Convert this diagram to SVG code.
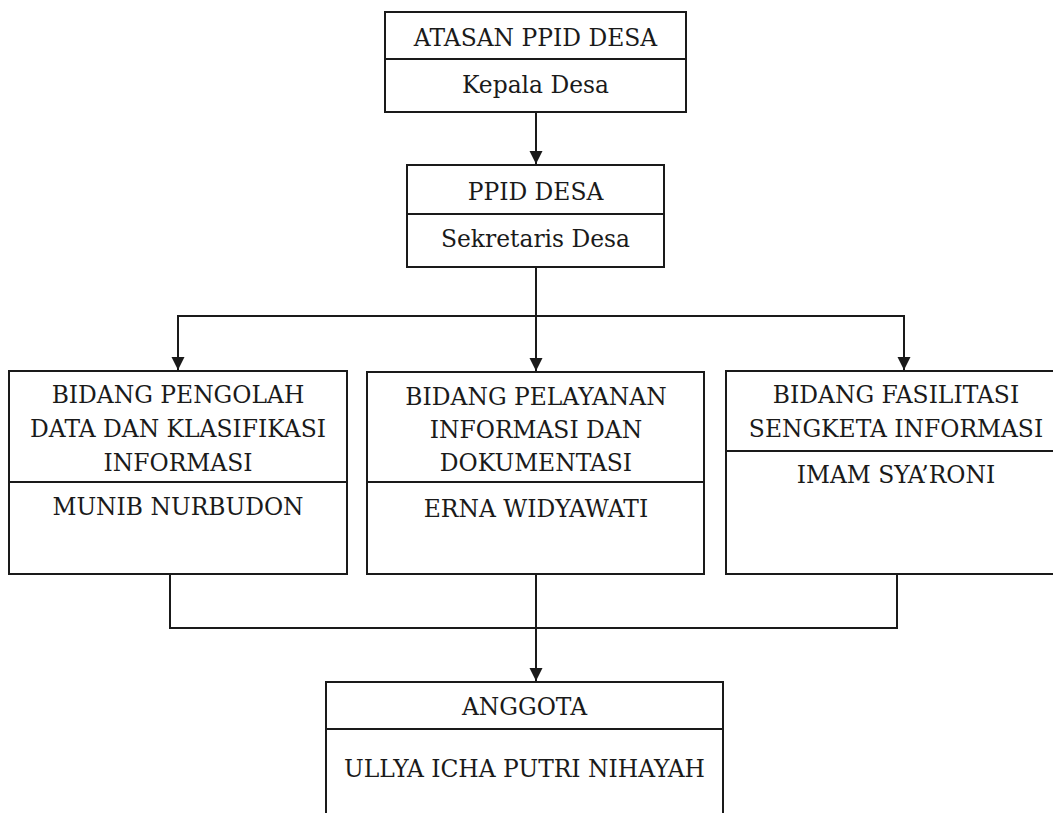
<svg xmlns="http://www.w3.org/2000/svg" width="1053" height="813" viewBox="0 0 1053 813">
<defs>
<style>
.box{fill:#fff;stroke:#1a1a1a;stroke-width:2}
.div{stroke:#1a1a1a;stroke-width:2}
.t{font-family:"DejaVu Serif","Liberation Serif",serif;font-size:23.4px;fill:#1a1a1a;text-anchor:middle}
.c{fill:none;stroke:#1a1a1a;stroke-width:2}
</style>
<marker id="ad" markerUnits="userSpaceOnUse" markerWidth="14" markerHeight="14" viewBox="0 0 14 14" refX="13" refY="7" orient="auto">
<path d="M0,0.5 L13,7 L0,13.5 Z" fill="#1a1a1a"/>
</marker>
</defs>
<rect width="1053" height="813" fill="#fff"/>
<g id="connectors">
<line class="c" x1="536" y1="112" x2="536" y2="164" marker-end="url(#ad)"/>
<line class="c" x1="536" y1="267" x2="536" y2="316"/>
<line class="c" x1="177" y1="316" x2="905" y2="316"/>
<line class="c" x1="178" y1="316" x2="178" y2="370" marker-end="url(#ad)"/>
<line class="c" x1="536" y1="316" x2="536" y2="371" marker-end="url(#ad)"/>
<line class="c" x1="904" y1="316" x2="904" y2="370" marker-end="url(#ad)"/>
<polyline class="c" points="170,574 170,628 897,628 897,574"/>
<line class="c" x1="536" y1="574" x2="536" y2="681" marker-end="url(#ad)"/>
</g>
<g id="atasan">
<rect class="box" x="385" y="12" width="301" height="100"/>
<line class="div" x1="385" y1="59" x2="686" y2="59"/>
<text class="t" x="535.5" y="46">ATASAN PPID DESA</text>
<text class="t" x="535.5" y="93">Kepala Desa</text>
</g>
<g id="ppid">
<rect class="box" x="407" y="165" width="257" height="102"/>
<line class="div" x1="407" y1="214" x2="664" y2="214"/>
<text class="t" x="535.5" y="200">PPID DESA</text>
<text class="t" x="535.5" y="247">Sekretaris Desa</text>
</g>
<g id="pengolah">
<rect class="box" x="9" y="371" width="338" height="203"/>
<line class="div" x1="9" y1="482" x2="347" y2="482"/>
<text class="t" x="178" y="403">BIDANG PENGOLAH</text>
<text class="t" x="178" y="437">DATA DAN KLASIFIKASI</text>
<text class="t" x="178" y="471">INFORMASI</text>
<text class="t" x="178" y="515">MUNIB NURBUDON</text>
</g>
<g id="pelayanan">
<rect class="box" x="367" y="372" width="337" height="202"/>
<line class="div" x1="367" y1="482" x2="704" y2="482"/>
<text class="t" x="536" y="405">BIDANG PELAYANAN</text>
<text class="t" x="536" y="438">INFORMASI DAN</text>
<text class="t" x="536" y="471">DOKUMENTASI</text>
<text class="t" x="536" y="517">ERNA WIDYAWATI</text>
</g>
<g id="fasilitasi">
<rect class="box" x="726" y="371" width="340" height="203"/>
<line class="div" x1="726" y1="451" x2="1066" y2="451"/>
<text class="t" x="896" y="403">BIDANG FASILITASI</text>
<text class="t" x="896" y="437">SENGKETA INFORMASI</text>
<text class="t" x="896" y="483">IMAM SYA’RONI</text>
</g>
<g id="anggota">
<rect class="box" x="326" y="682" width="397" height="150"/>
<line class="div" x1="326" y1="729" x2="723" y2="729"/>
<text class="t" x="524.5" y="715">ANGGOTA</text>
<text class="t" x="524.5" y="777">ULLYA ICHA PUTRI NIHAYAH</text>
</g>
</svg>
